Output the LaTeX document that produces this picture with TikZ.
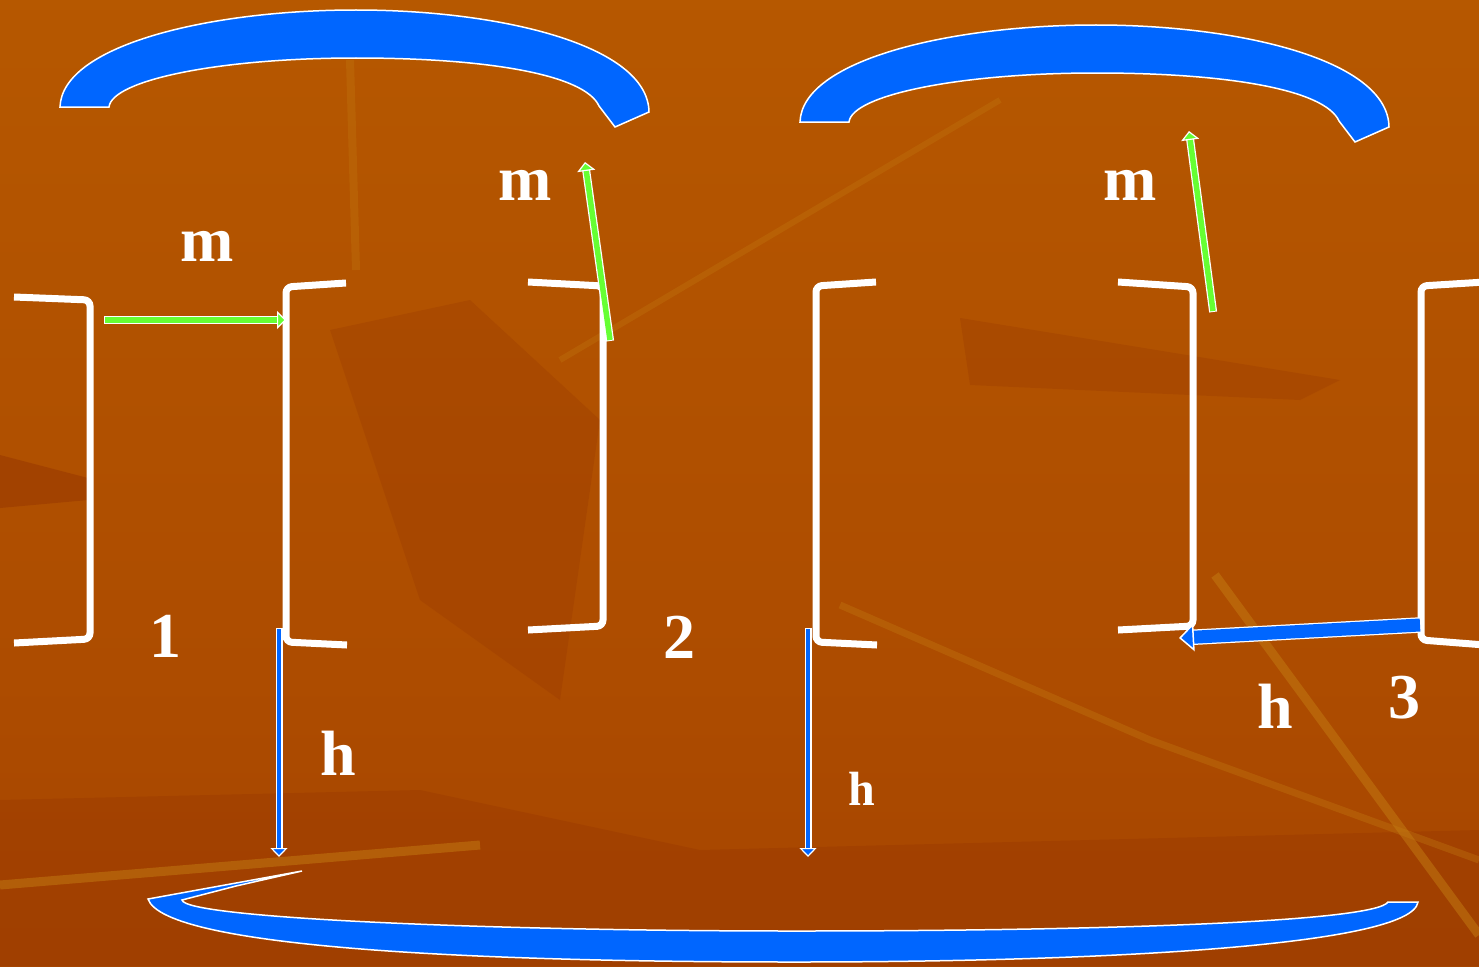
\documentclass[tikz,border=0pt]{standalone}
\usepackage{fontspec}
\setmainfont{Liberation Serif}
\usetikzlibrary{arrows.meta, positioning}

\definecolor{mygreen}{HTML}{66FF33}
\definecolor{myblue}{HTML}{0066FF}
\definecolor{bgtop}{HTML}{A04F00}
\definecolor{bgup}{HTML}{B95C00}
\definecolor{bgmid}{HTML}{AD4C00}
\definecolor{bgbot}{HTML}{9A3800}
\definecolor{bgdark}{HTML}{933300}
\definecolor{bglight}{HTML}{C47C12}
\pgfdeclareverticalshading{bgshade}{100bp}{color(0bp)=(bgbot); color(40bp)=(bgmid); color(88bp)=(bgup); color(100bp)=(bgtop)}

\begin{document}
\begin{tikzpicture}[
        x=1pt, y=-1pt,
        bracket/.style={draw=white, line width=7pt, rounded corners=6pt},
        band/.style={fill=myblue, draw=white, line width=1.5pt, line join=miter},
        garrow/.style={draw=mygreen, line width=5.5pt,
            -{Triangle[width=18pt, length=9pt, color=white, fill=mygreen, line width=1.2pt]},
            preaction={draw=white, line width=8pt, arrows=-, shorten >=8pt, shorten <=-1pt}},
        barrow/.style={draw=myblue, line width=4.5pt,
            -{Triangle[width=17pt, length=9pt, color=white, fill=myblue, line width=1.2pt]},
            preaction={draw=white, line width=7pt, arrows=-, shorten >=8pt, shorten <=-1pt}},
        bigarrow/.style={draw=myblue, line width=13pt,
            -{Triangle[width=28pt, length=15pt, color=white, fill=myblue, line width=1.5pt]},
            preaction={draw=white, line width=15.5pt, arrows=-, shorten >=14pt}},
        lbl/.style={text=white, inner sep=0pt, anchor=base, font=\fontsize{64}{64}\selectfont\bfseries},
        lblsm/.style={lbl, font=\fontsize{48}{48}\selectfont\bfseries},
    ]
    \useasboundingbox (0,0) rectangle (1479,966);

    % ---- background ----
    \fill[shading=bgshade] (0,0) rectangle (1479,966);
    \fill[bgdark, opacity=0.45] (0,455) -- (88,478) -- (88,500) -- (0,508) -- cycle;
    \fill[bgdark, opacity=0.25] (330,330) -- (470,300) -- (600,420) -- (560,700) -- (420,600) -- cycle;
    \fill[bgdark, opacity=0.25] (960,318) -- (1340,380) -- (1300,400) -- (970,385) -- cycle;
    \fill[bgdark, opacity=0.3] (0,800) -- (420,790) -- (700,850) -- (1479,830) -- (1479,966) -- (0,966) -- cycle;
    \draw[bglight, opacity=0.5, line width=9pt] (1215,575) -- (1479,935);
    \draw[bglight, opacity=0.5, line width=9pt] (0,885) -- (480,845);
    \draw[bglight, opacity=0.35, line width=7pt] (840,605) -- (1150,740) -- (1479,860);
    \draw[bglight, opacity=0.3, line width=8pt] (350,60) -- (356,270);
    \draw[bglight, opacity=0.3, line width=6pt] (560,360) -- (1000,100);

    % ---- curved bands ----
    \foreach \dx/\dy in {0/0, 740/15} {
        \path[band, shift={(\dx,\dy)}] (60,107) .. controls (62,45) and (210,10) .. (356,10)
            .. controls (500,10) and (648,45) .. (649,112) -- (615,127) -- (599,106)
            .. controls (585,75) and (490,58) .. (356,58)
            .. controls (220,58) and (112,80) .. (109,107) -- cycle;
    }
    \path[band] (148,899) .. controls (165,948) and (480,962) .. (795,962)
        .. controls (1110,962) and (1412,945) .. (1418,902) -- (1388,902)
        .. controls (1375,922) and (1100,931) .. (795,931)
        .. controls (490,931) and (185,918) .. (182,900) -- (236,886) -- (302,871) -- cycle;

    % ---- brackets ----
    \draw[bracket] (14,297) -- (90,300) -- (90,639) -- (14,643);
    \draw[bracket] (346,283) -- (286,287) -- (286,642) -- (347,645);
    \draw[bracket] (528,282) -- (603,286) -- (603,626) -- (528,630);
    \draw[bracket] (876,282) -- (816,286) -- (816,642) -- (877,645);
    \draw[bracket] (1118,282) -- (1193,287) -- (1193,626) -- (1118,630);
    \draw[bracket] (1485,282) -- (1421,286) -- (1421,640) -- (1485,645);

    % ---- arrow ends ----
    \coordinate (ga1) at (105,320);
    \coordinate (gb1) at (286,320);
    \coordinate (ga2) at (610,340);
    \coordinate (gb2) at (585,162);
    \coordinate (ga3) at (1213,311);
    \coordinate (gb3) at (1189,131);
    \coordinate (ba1) at (279,629);
    \coordinate (bb1) at (279,857);
    \coordinate (ba2) at (808,629);
    \coordinate (bb2) at (808,857);
    \coordinate (ba3) at (1420,625);
    \coordinate (bb3) at (1179,638);

    % ---- arrows ----
    \draw[garrow] (ga1) -- (gb1);
    \draw[garrow] (ga2) -- (gb2);
    \draw[garrow] (ga3) -- (gb3);
    \draw[barrow] (ba1) -- (bb1);
    \draw[barrow] (ba2) -- (bb2);
    \draw[bigarrow] (ba3) -- (bb3);

    % ---- labels ----
    \node[lbl] (m1) at (207,261) {m};
    \node[lbl] (m2) at (525,200) {m};
    \node[lbl] (m3) at (1130,200) {m};
    \node[lbl] (n1) at (165,657) {1};
    \node[lbl] (n2) at (679,658) {2};
    \node[lbl] (n3) at (1404,718) {3};
    \node[lbl] (h1) at (338,775) {h};
    \node[lblsm] (h2) at (862,805) {h};
    \node[lbl] (h3) at (1275,728) {h};
\end{tikzpicture}
\end{document}
